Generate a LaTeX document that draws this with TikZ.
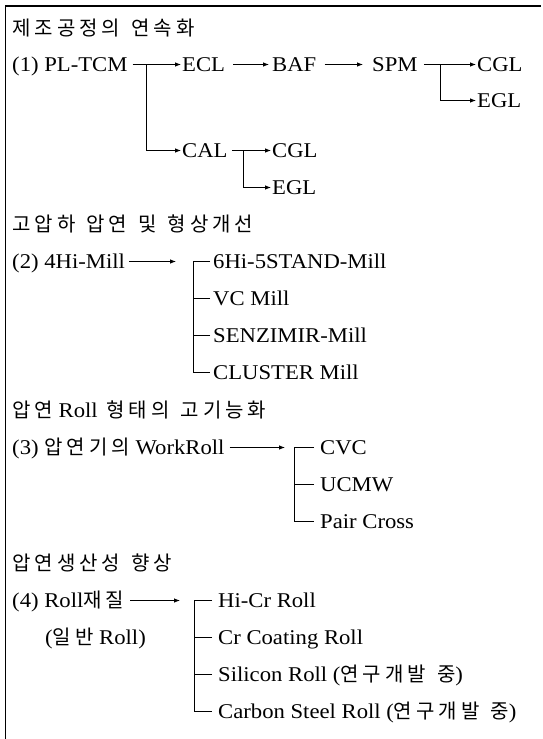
\documentclass[tikz,border=0pt]{standalone}
\usepackage{fontspec}
\setmainfont{Liberation Serif}[FakeStretch=1.08]
\newfontfamily\kfont{Noto Sans CJK KR}[LetterSpace=20,WordSpace=1.3]
\newcommand{\K}[1]{{\kfont\fontsize{20}{20}\selectfont #1}}
\usetikzlibrary{arrows.meta}
\begin{document}
\begin{tikzpicture}[x=1pt,y=1pt,
  txt/.style={anchor=base west, inner sep=0pt, text height=13pt, text depth=0pt, font=\fontsize{21}{21}\selectfont},
  arr/.style={-{Latex[length=6pt,width=4.5pt]}, line width=0.8pt},
  ln/.style={line width=0.8pt},
  frame/.style={line width=1.3pt}]
\path[use as bounding box, fill=white] (0,0) rectangle (543,-739);
\draw[frame] (5.5,-739) -- (5.5,-6) -- (541,-6);

% texts
\node[txt] (title1) at (12,-35) {\K{제조공정의 연속화}};
\node[txt] (pl) at (12,-71) {(1) PL-TCM};
\node[txt] (ecl) at (182,-71) {ECL};
\node[txt] (baf) at (272,-71) {BAF};
\node[txt] (spm) at (372,-71) {SPM};
\node[txt] (cgla) at (477,-71) {CGL};
\node[txt] (egla) at (477,-107) {EGL};
\node[txt] (cal) at (182,-157) {CAL};
\node[txt] (cglb) at (272,-157) {CGL};
\node[txt] (eglb) at (272,-194) {EGL};
\node[txt] (title2) at (12,-231) {\K{고압하 압연 및 형상개선}};
\node[txt] (hi4) at (12,-268) {(2) 4Hi-Mill};
\node[txt] (m6) at (213,-268) {6Hi-5STAND-Mill};
\node[txt] (vc) at (213,-305) {VC Mill};
\node[txt] (senz) at (213,-342) {SENZIMIR-Mill};
\node[txt] (clus) at (213,-379) {CLUSTER Mill};
\node[txt] (title3) at (12,-417) {\K{압연} Roll\hspace{3pt} \K{형태의 고기능화}};
\node[txt] (wr) at (12,-454) {(3) \K{압연기의} WorkRoll};
\node[txt] (cvc) at (320,-454) {CVC};
\node[txt] (ucmw) at (320,-491) {UCMW};
\node[txt] (pair) at (320,-528) {Pair Cross};
\node[txt] (title4) at (12,-570) {\K{압연생산성 향상}};
\node[txt] (roll) at (12,-607) {(4) Roll\K{재질}};
\node[txt] (ilban) at (45,-644) {(\K{일반} Roll)};
\node[txt] (hicr) at (218,-607) {Hi-Cr Roll};
\node[txt] (crc) at (218,-644) {Cr Coating Roll};
\node[txt] (sil) at (218,-681) {Silicon Roll (\K{연구개발 중})};
\node[txt] (carb) at (218,-718) {Carbon Steel Roll (\K{연구개발 중})};

% (1) connectors
\draw[arr] ([xshift=5pt]pl.east) -- ([xshift=-1pt]ecl.west);
\coordinate (b1) at (146,-64.5);
\draw[arr] (b1) |- ([xshift=-1pt]cal.west);
\draw[arr] ([xshift=8pt]ecl.east) -- ([xshift=-3pt]baf.west);
\draw[arr] ([xshift=8pt]baf.east) -- ([xshift=-9pt]spm.west);
\draw[arr] ([xshift=6pt]spm.east) -- ([xshift=-1pt]cgla.west);
\coordinate (b2) at (440,-64.5);
\draw[arr] (b2) |- ([xshift=-1pt]egla.west);
\draw[arr] ([xshift=4pt]cal.east) -- ([xshift=-1pt]cglb.west);
\coordinate (b3) at (243,-150.5);
\draw[arr] (b3) |- ([xshift=-1pt]eglb.west);

% (2)
\coordinate (t2) at (176,-261.5);
\draw[arr] ([xshift=4pt]hi4.east) -- (t2);
\draw[ln] ([xshift=-3pt]m6.west) -- ++(-17,0) |- ([xshift=-3pt]clus.west);
\draw[ln] ([xshift=-3pt]vc.west) -- ++(-17,0);
\draw[ln] ([xshift=-3pt]senz.west) -- ++(-17,0);

% (3)
\coordinate (t3) at (285,-447.5);
\draw[arr] ([xshift=5pt]wr.east) -- (t3);
\draw[ln] ([xshift=-6pt]cvc.west) -- ++(-20,0) |- ([xshift=-6pt]pair.west);
\draw[ln] ([xshift=-6pt]ucmw.west) -- ++(-20,0);

% (4)
\coordinate (t4) at (180,-600.5);
\draw[arr] ([xshift=6pt]roll.east) -- (t4);
\draw[ln] ([xshift=-6pt]hicr.west) -- ++(-18,0) |- ([xshift=-6pt]carb.west);
\draw[ln] ([xshift=-6pt]crc.west) -- ++(-18,0);
\draw[ln] ([xshift=-6pt]sil.west) -- ++(-18,0);
\end{tikzpicture}
\end{document}
